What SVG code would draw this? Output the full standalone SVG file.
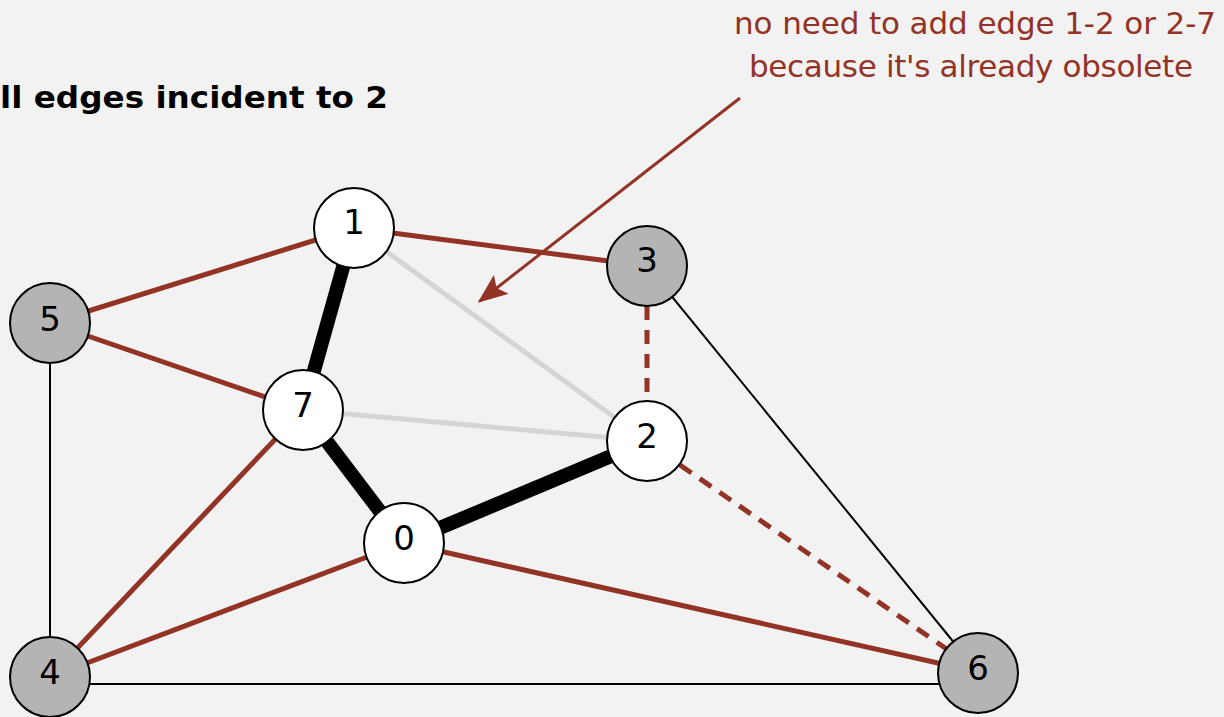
<svg xmlns="http://www.w3.org/2000/svg" width="1224" height="717" viewBox="0 0 1224 717">
<style>
.n circle{stroke:#000;stroke-width:2}
.w{fill:#fff}
.g{fill:#b4b4b4}
.n text{font-family:"DejaVu Sans","Liberation Sans",sans-serif;font-size:34px;text-anchor:middle;fill:#000}
.red{stroke:#933326;stroke-width:5;fill:none}
.dash{stroke:#933326;stroke-width:5;stroke-dasharray:14,10;fill:none}
.thin{stroke:#000;stroke-width:2;fill:none}
.gray{stroke:#d4d4d4;stroke-width:5;fill:none}
.tree{stroke:#000;stroke-width:14;fill:none}
.lbl{font-family:"DejaVu Sans","Liberation Sans",sans-serif;font-size:31px}
</style>
<defs>
<marker id="ah" markerWidth="10" markerHeight="8" refX="9" refY="4" orient="auto" markerUnits="strokeWidth">
<path d="M0,0 L10,4 L0,8 L2,4 z" fill="#933326"/>
</marker>
</defs>
<rect width="1224" height="717" fill="#f2f2f2"/>
<text class="lbl" x="0" y="108" font-size="31" font-weight="bold" fill="#000" textLength="388" lengthAdjust="spacingAndGlyphs">ll edges incident to 2</text>
<text class="lbl" x="975" y="34" text-anchor="middle" fill="#933326" textLength="482" lengthAdjust="spacing">no need to add edge 1-2 or 2-7</text>
<text class="lbl" x="971" y="77" text-anchor="middle" fill="#933326" textLength="444" lengthAdjust="spacing">because it's already obsolete</text>
<g id="connectors">
<line class="gray" x1="354" y1="228" x2="647" y2="441"/>
<line class="gray" x1="303" y1="410" x2="647" y2="441"/>
<line class="thin" x1="50" y1="323" x2="50" y2="677"/>
<line class="thin" x1="50" y1="684" x2="978" y2="684"/>
<line class="thin" x1="647" y1="266" x2="978" y2="672"/>
<line class="red" x1="354" y1="228" x2="647" y2="266"/>
<line class="red" x1="354" y1="228" x2="50" y2="323"/>
<line class="red" x1="50" y1="323" x2="303" y2="410"/>
<line class="red" x1="303" y1="410" x2="50" y2="677"/>
<line class="red" x1="404" y1="543" x2="50" y2="677"/>
<line class="red" x1="404" y1="543" x2="978" y2="672"/>
<line class="dash" x1="647" y1="306" x2="647" y2="401"/>
<line class="dash" x1="680" y1="465" x2="948" y2="650"/>
<line class="tree" x1="354" y1="228" x2="303" y2="410"/>
<line class="tree" x1="303" y1="410" x2="404" y2="543"/>
<line class="tree" x1="404" y1="543" x2="647" y2="441"/>
<line stroke="#933326" stroke-width="3" x1="740" y1="98" x2="480" y2="301" marker-end="url(#ah)"/>
</g>
<g id="node-1" class="n"><circle class="w" cx="354" cy="228" r="40"/><text x="354" y="234">1</text></g>
<g id="node-3" class="n"><circle class="g" cx="647" cy="266" r="40"/><text x="647" y="272">3</text></g>
<g id="node-5" class="n"><circle class="g" cx="50" cy="323" r="40"/><text x="50" y="331">5</text></g>
<g id="node-7" class="n"><circle class="w" cx="303" cy="410" r="40"/><text x="303" y="417">7</text></g>
<g id="node-2" class="n"><circle class="w" cx="647" cy="441" r="40"/><text x="647" y="448">2</text></g>
<g id="node-0" class="n"><circle class="w" cx="404" cy="543" r="40"/><text x="404" y="550">0</text></g>
<g id="node-4" class="n"><circle class="g" cx="50" cy="677" r="40"/><text x="50" y="684">4</text></g>
<g id="node-6" class="n"><circle class="g" cx="978" cy="673" r="40"/><text x="978" y="680">6</text></g>
</svg>
